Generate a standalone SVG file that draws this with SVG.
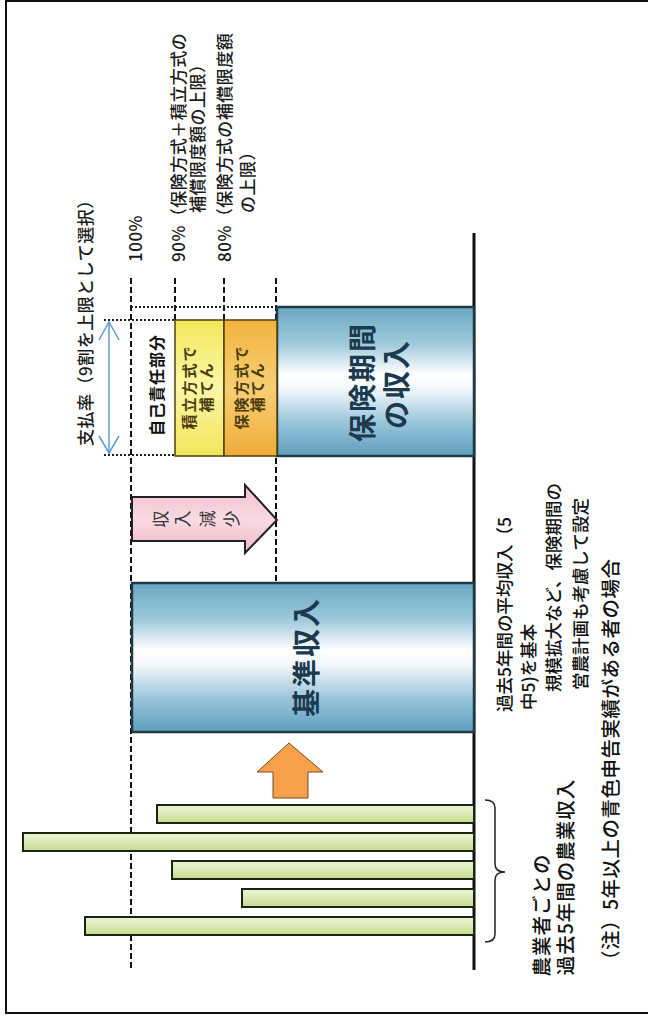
<svg xmlns="http://www.w3.org/2000/svg" width="648" height="1020" viewBox="0 0 648 1020">
<defs>
<style>
.t{font-family:"Noto Sans CJK JP","Noto Sans",sans-serif;dominant-baseline:central;}
.lab{font-size:17px;fill:#1a1a1a;letter-spacing:0.5px;font-weight:500;}
.blk{font-size:17.5px;fill:#111;font-weight:500;}
.low{font-size:19.5px;fill:#111;letter-spacing:1px;font-weight:500;}
.big{font-size:28px;font-weight:bold;fill:#1b3a4e;letter-spacing:2px;}
.dash{stroke:#111;stroke-width:2;stroke-dasharray:6 3;fill:none;}
.dot{stroke:#222;stroke-width:2;stroke-dasharray:2 2;fill:none;}
.bar{stroke:#1a2410;stroke-width:2;fill:url(#gGreen);}
</style>
<linearGradient id="gBlue" x1="0" y1="0" x2="0" y2="1">
<stop offset="0" stop-color="#6aa9c2"/>
<stop offset="0.25" stop-color="#9fcadc"/>
<stop offset="0.45" stop-color="#ffffff"/>
<stop offset="0.55" stop-color="#f2f8fb"/>
<stop offset="0.78" stop-color="#98c4da"/>
<stop offset="1" stop-color="#5e9ebc"/>
</linearGradient>
<linearGradient id="gYellow" x1="0" y1="0" x2="0" y2="1">
<stop offset="0" stop-color="#f3e85c"/>
<stop offset="0.5" stop-color="#fbf6a6"/>
<stop offset="1" stop-color="#f2e55a"/>
</linearGradient>
<linearGradient id="gOrange" x1="0" y1="0" x2="0" y2="1">
<stop offset="0" stop-color="#f2b33c"/>
<stop offset="0.5" stop-color="#f8cf74"/>
<stop offset="1" stop-color="#f0ac38"/>
</linearGradient>
<linearGradient id="gGreen" x1="0" y1="0" x2="0" y2="1">
<stop offset="0" stop-color="#eef5d8"/>
<stop offset="0.5" stop-color="#dbe9b6"/>
<stop offset="1" stop-color="#c6d98f"/>
</linearGradient>
<linearGradient id="gPink" x1="0" y1="0" x2="0" y2="1">
<stop offset="0" stop-color="#f2bccb"/>
<stop offset="0.5" stop-color="#f9dae3"/>
<stop offset="1" stop-color="#f0b8c8"/>
</linearGradient>
</defs>

<rect width="648" height="1020" fill="#ffffff"/>
<path d="M648,1 H6 V1013 H648" fill="none" stroke="#111" stroke-width="2"/>

<g id="guides">
<line class="dash" x1="131" y1="278" x2="131" y2="970"/>
<line class="dash" x1="175" y1="278" x2="175" y2="320"/>
<line class="dash" x1="224" y1="278" x2="224" y2="320"/>
<line class="dash" x1="276" y1="278" x2="276" y2="583"/>
<line class="dot" x1="131" y1="307" x2="277" y2="307"/>
<line class="dot" x1="104" y1="320" x2="175" y2="320"/>
<line class="dot" x1="104" y1="455" x2="175" y2="455"/>
<line x1="474" y1="233" x2="474" y2="970" stroke="#111" stroke-width="3"/>
</g>

<g id="farm-bars">
<rect class="bar" x="157" y="805" width="317" height="18"/>
<rect class="bar" x="23" y="833" width="451" height="18"/>
<rect class="bar" x="172" y="861" width="302" height="18"/>
<rect class="bar" x="242" y="889" width="232" height="18"/>
<rect class="bar" x="85" y="917" width="389" height="18"/>
</g>

<g id="bracket">
<path d="M485,800 Q495,800 495,808 V864 Q495,872 505,872 Q495,872 495,880 V934 Q495,942 485,942" fill="none" stroke="#222" stroke-width="1.5"/>
</g>

<g id="up-arrow">
<polygon points="289,743 323,772 308,772 308,798 273,798 273,772 257,772" fill="#f6a04c" stroke="#7a4a20" stroke-width="1"/>
</g>

<g id="base-income">
<rect x="132" y="583" width="342" height="149" fill="url(#gBlue)" stroke="#1e3a44" stroke-width="2.5"/>
<text class="t big" text-anchor="middle" transform="translate(305,657) rotate(-90)">基準収入</text>
</g>

<g id="decrease-arrow">
<polygon points="132,497 245,497 245,485 277,520 245,553 245,541 132,541" fill="url(#gPink)" stroke="#222" stroke-width="2"/>
<text class="t" font-size="17" fill="#333" text-anchor="middle" transform="translate(159,519) rotate(-90)">収</text>
<text class="t" font-size="17" fill="#333" text-anchor="middle" transform="translate(181,519) rotate(-90)">入</text>
<text class="t" font-size="17" fill="#333" text-anchor="middle" transform="translate(206,519) rotate(-90)">減</text>
<text class="t" font-size="17" fill="#333" text-anchor="middle" transform="translate(230,519) rotate(-90)">少</text>
</g>

<g id="period-income">
<rect x="277" y="307" width="197" height="149" fill="url(#gBlue)" stroke="#1e3a44" stroke-width="2.5"/>
<text class="t big" text-anchor="middle" transform="translate(361,382) rotate(-90)">保険期間</text>
<text class="t big" text-anchor="middle" transform="translate(395,384) rotate(-90)">の収入</text>
</g>

<g id="reserve">
<rect x="175" y="320" width="49" height="136" fill="url(#gYellow)" stroke="#4d4010" stroke-width="1.5"/>
<text class="t" font-size="15" font-weight="bold" fill="#4a3c10" letter-spacing="2" text-anchor="middle" transform="translate(188,387) rotate(-90)">積立方式で</text>
<text class="t" font-size="15" font-weight="bold" fill="#4a3c10" letter-spacing="2" text-anchor="middle" transform="translate(205,387) rotate(-90)">補てん</text>
</g>

<g id="insurance">
<rect x="224" y="320" width="53" height="136" fill="url(#gOrange)" stroke="#4d4010" stroke-width="1.5"/>
<text class="t" font-size="15" font-weight="bold" fill="#4a3c10" letter-spacing="2" text-anchor="middle" transform="translate(240,387) rotate(-90)">保険方式で</text>
<text class="t" font-size="15" font-weight="bold" fill="#4a3c10" letter-spacing="2" text-anchor="middle" transform="translate(256,387) rotate(-90)">補てん</text>
</g>

<g id="self">
<text class="t" font-size="16" font-weight="bold" fill="#111" letter-spacing="1" text-anchor="middle" transform="translate(156,385) rotate(-90)">自己責任部分</text>
</g>

<g id="payment-rate">
<g stroke="#5b9bd5" stroke-width="1.5" fill="none">
<line x1="109" y1="322" x2="109" y2="453"/>
<polyline points="99,340 109,322 119,340"/>
<polyline points="99,436 109,453 119,436"/>
</g>
<text class="t lab" transform="translate(84,446) rotate(-90)">支払率（9割を上限として選択）</text>
</g>

<g id="levels">
<text class="t lab" transform="translate(134,262) rotate(-90)">100%</text>
<text class="t lab" transform="translate(177,262) rotate(-90)">90%（保険方式＋積立方式の</text>
<text class="t lab" transform="translate(196,213) rotate(-90)">補償限度額の上限）</text>
<text class="t lab" transform="translate(223,262) rotate(-90)">80%（保険方式の補償限度額</text>
<text class="t lab" transform="translate(246,213) rotate(-90)">の上限）</text>
</g>

<g id="notes">
<text class="t blk" transform="translate(503,712) rotate(-90)">過去5年間の平均収入（5</text>
<text class="t blk" transform="translate(527,710) rotate(-90)">中5)を基本</text>
<text class="t blk" transform="translate(552,692) rotate(-90)">規模拡大など、保険期間の</text>
<text class="t blk" transform="translate(579,690) rotate(-90)">営農計画も考慮して設定</text>
<text class="t low" text-anchor="middle" transform="translate(540,915) rotate(-90)">農業者ごとの</text>
<text class="t low" text-anchor="middle" transform="translate(564,877) rotate(-90)">過去5年間の農業収入</text>
<text class="t" font-size="19.5" fill="#111" font-weight="500" letter-spacing="0.5" transform="translate(609,970) rotate(-90)">（注）5年以上の青色申告実績がある者の場合</text>
</g>
</svg>
